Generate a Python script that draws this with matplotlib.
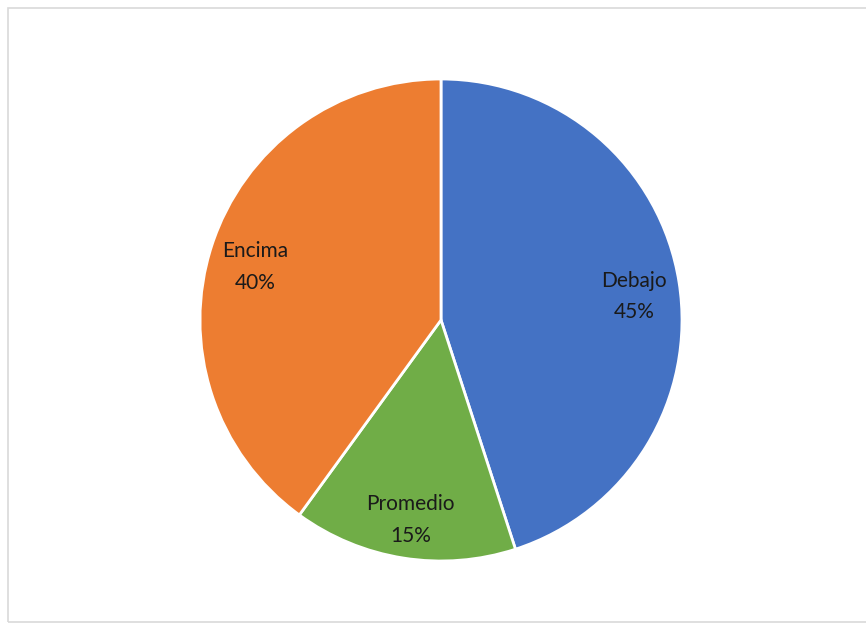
import matplotlib
matplotlib.use("Agg")
import matplotlib.pyplot as plt
from matplotlib.patches import Rectangle
import numpy as np

labels = ["Debajo", "Promedio", "Encima"]
values = [45, 15, 40]
colors = ["#4472C4", "#70AD47", "#ED7D31"]

plt.rcParams["font.family"] = ["Lato", "DejaVu Sans"]

fig = plt.figure(figsize=(8.66, 6.26), dpi=100)
# pie centre ~ (441, 320) px, radius ~241 px
r_px = 241
ax = fig.add_axes([(441 - r_px) / 866, 1 - (320 + r_px) / 626, 2 * r_px / 866, 2 * r_px / 626])

ax.pie(values, colors=colors, startangle=90, counterclock=False,
       wedgeprops=dict(edgecolor="white", linewidth=2), radius=1.0)
ax.set_xlim(-1, 1)
ax.set_ylim(-1, 1)
ax.set_aspect("equal")
ax.axis("off")

# labels inside slices
start = 90
for name, v in zip(labels, values):
    mid = start - v * 3.6 / 2
    start -= v * 3.6
    d = 0.81
    ax.text(d * np.cos(np.radians(mid)), d * np.sin(np.radians(mid)) - 0.03,
            f"{name}\n{v}%", ha="center", va="center", fontsize=15,
            color="#1a1a1a", linespacing=1.7)

# light frame around the chart area
fig.patches.append(Rectangle((8 / 866, 4 / 626), 1.0, 1 - 12 / 626,
                             transform=fig.transFigure, fill=False,
                             edgecolor="#d9d9d9", linewidth=1.2))

fig.savefig("out.png", dpi=100)
